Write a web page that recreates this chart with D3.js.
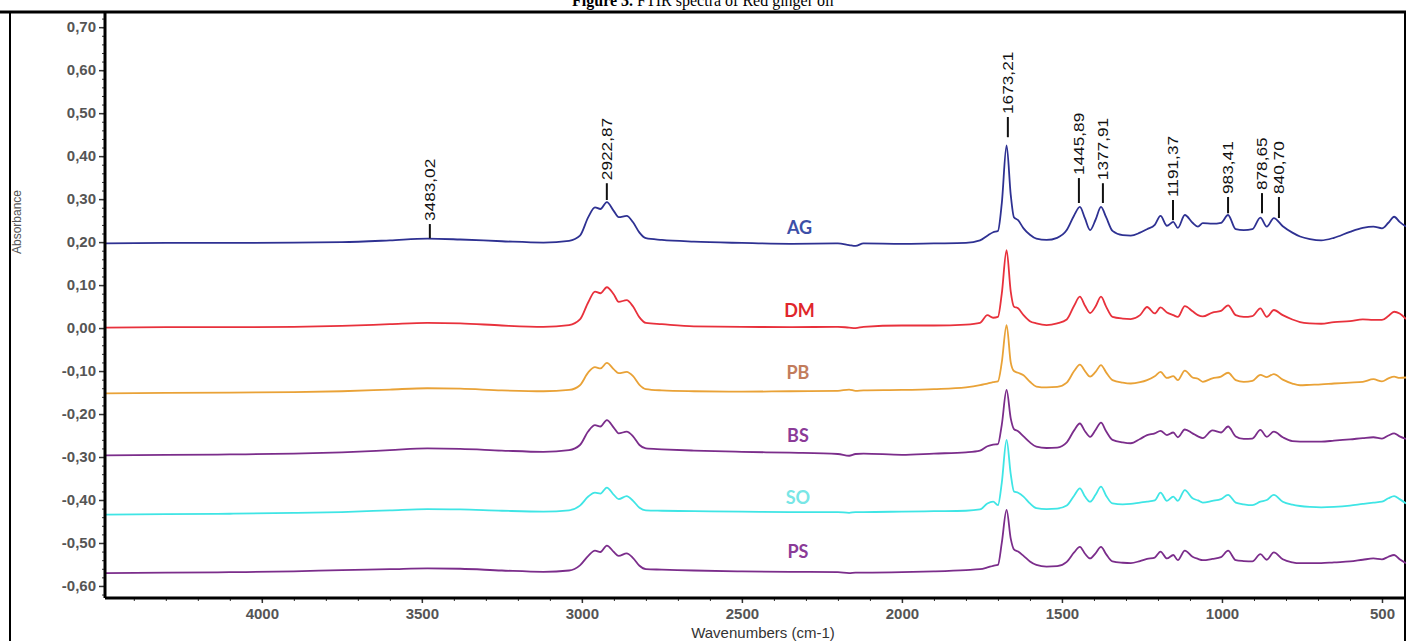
<!DOCTYPE html>
<html>
<head>
<meta charset="utf-8">
<script src="https://cdn.jsdelivr.net/npm/d3@7"></script>
<style>
    html, body { margin: 0; padding: 0; background: #fff; }
    #chart { width: 1406px; height: 641px; overflow: hidden; }
</style>
</head>
<body>
<div id="chart"></div>
<script>
// Wavenumber grid (cm-1), shared by every spectrum
const wavenumbers = [4490, 4300, 4100, 3900, 3750, 3600, 3483, 3380, 3250, 3120,
    3040, 3006, 2980, 2959, 2942, 2922, 2900, 2885, 2860, 2840,
    2820, 2800, 2750, 2650, 2500, 2350, 2200, 2165, 2145, 2120,
    2000, 1900, 1800, 1756, 1733, 1715, 1700, 1688, 1673, 1660,
    1650, 1637, 1620, 1600, 1580, 1548, 1515, 1485, 1462, 1444,
    1428, 1412, 1395, 1378, 1362, 1342, 1310, 1285, 1256, 1234,
    1210, 1192, 1172, 1152, 1138, 1116, 1092, 1075, 1060, 1030,
    1003, 981, 957, 932, 905, 880, 860, 838, 810, 780,
    756, 725, 690, 650, 600, 560, 527, 500, 480, 462,
    445, 425];

// Absorbance of each sample (offset as in the figure)
const agValues = [0.197, 0.198, 0.198, 0.199, 0.200, 0.204, 0.208, 0.206, 0.202, 0.199,
    0.203, 0.215, 0.258, 0.281, 0.277, 0.293, 0.272, 0.258, 0.261, 0.246,
    0.222, 0.209, 0.205, 0.201, 0.198, 0.196, 0.197, 0.193, 0.191, 0.197,
    0.196, 0.197, 0.198, 0.204, 0.215, 0.223, 0.226, 0.290, 0.425, 0.310,
    0.258, 0.251, 0.232, 0.217, 0.208, 0.205, 0.210, 0.228, 0.262, 0.282,
    0.255, 0.228, 0.252, 0.282, 0.258, 0.226, 0.216, 0.215, 0.222, 0.230,
    0.240, 0.261, 0.238, 0.247, 0.233, 0.263, 0.245, 0.236, 0.244, 0.243,
    0.245, 0.263, 0.230, 0.228, 0.230, 0.257, 0.236, 0.256, 0.237, 0.222,
    0.213, 0.207, 0.204, 0.210, 0.224, 0.233, 0.236, 0.232, 0.245, 0.259,
    0.247, 0.236];

const dmValues = [0.001, 0.002, 0.002, 0.003, 0.005, 0.009, 0.012, 0.011, 0.006, 0.003,
    0.007, 0.020, 0.060, 0.085, 0.081, 0.095, 0.078, 0.061, 0.065, 0.050,
    0.025, 0.012, 0.009, 0.004, 0.003, 0.002, 0.003, 0.001, 0.000, 0.003,
    0.006, 0.006, 0.008, 0.012, 0.030, 0.024, 0.026, 0.080, 0.181, 0.085,
    0.050, 0.046, 0.030, 0.016, 0.011, 0.007, 0.011, 0.020, 0.052, 0.073,
    0.052, 0.035, 0.050, 0.073, 0.050, 0.026, 0.022, 0.021, 0.030, 0.049,
    0.034, 0.048, 0.036, 0.030, 0.026, 0.051, 0.039, 0.030, 0.027, 0.036,
    0.040, 0.053, 0.030, 0.026, 0.028, 0.046, 0.026, 0.042, 0.030, 0.020,
    0.014, 0.011, 0.010, 0.014, 0.016, 0.020, 0.019, 0.019, 0.028, 0.038,
    0.034, 0.021];

const pbValues = [-0.152, -0.151, -0.150, -0.149, -0.147, -0.143, -0.140, -0.141, -0.145, -0.147,
    -0.144, -0.133, -0.103, -0.091, -0.094, -0.081, -0.096, -0.105, -0.102, -0.112,
    -0.132, -0.142, -0.145, -0.147, -0.148, -0.147, -0.146, -0.143, -0.146, -0.145,
    -0.144, -0.142, -0.138, -0.133, -0.129, -0.126, -0.124, -0.080, 0.007, -0.080,
    -0.100, -0.104, -0.110, -0.125, -0.136, -0.138, -0.137, -0.127, -0.100, -0.085,
    -0.100, -0.113, -0.102, -0.086, -0.103, -0.121, -0.127, -0.129, -0.126, -0.121,
    -0.112, -0.102, -0.116, -0.112, -0.121, -0.099, -0.115, -0.118, -0.125, -0.117,
    -0.113, -0.104, -0.121, -0.125, -0.123, -0.109, -0.114, -0.107, -0.120, -0.129,
    -0.133, -0.132, -0.131, -0.129, -0.127, -0.125, -0.119, -0.124, -0.117, -0.113,
    -0.116, -0.115];

const bsValues = [-0.296, -0.295, -0.294, -0.292, -0.289, -0.284, -0.280, -0.281, -0.285, -0.288,
    -0.284, -0.272, -0.240, -0.226, -0.229, -0.214, -0.232, -0.245, -0.241, -0.252,
    -0.272, -0.280, -0.282, -0.285, -0.288, -0.290, -0.293, -0.297, -0.293, -0.292,
    -0.295, -0.292, -0.289, -0.285, -0.275, -0.271, -0.270, -0.225, -0.144, -0.210,
    -0.235, -0.240, -0.252, -0.266, -0.276, -0.279, -0.278, -0.266, -0.238, -0.222,
    -0.240, -0.253, -0.237, -0.220, -0.240, -0.260, -0.266, -0.268, -0.258, -0.249,
    -0.245, -0.239, -0.249, -0.243, -0.254, -0.236, -0.245, -0.252, -0.256, -0.238,
    -0.243, -0.229, -0.252, -0.258, -0.257, -0.237, -0.253, -0.241, -0.254, -0.263,
    -0.264, -0.264, -0.264, -0.262, -0.259, -0.256, -0.254, -0.257, -0.250, -0.245,
    -0.252, -0.258];

const soValues = [-0.434, -0.433, -0.432, -0.430, -0.428, -0.424, -0.421, -0.422, -0.425, -0.427,
    -0.424, -0.413, -0.392, -0.383, -0.385, -0.371, -0.388, -0.398, -0.391, -0.402,
    -0.418, -0.424, -0.425, -0.426, -0.427, -0.428, -0.428, -0.430, -0.428, -0.428,
    -0.427, -0.426, -0.425, -0.422, -0.408, -0.404, -0.412, -0.360, -0.260, -0.340,
    -0.380, -0.383, -0.392, -0.408, -0.419, -0.421, -0.420, -0.413, -0.390, -0.373,
    -0.392, -0.404, -0.388, -0.369, -0.390, -0.408, -0.410, -0.409, -0.406, -0.404,
    -0.401, -0.383, -0.402, -0.392, -0.402, -0.377, -0.396, -0.401, -0.406, -0.402,
    -0.398, -0.388, -0.406, -0.410, -0.412, -0.404, -0.400, -0.388, -0.404, -0.411,
    -0.414, -0.416, -0.417, -0.416, -0.413, -0.409, -0.406, -0.404, -0.396, -0.391,
    -0.398, -0.408];

const psValues = [-0.570, -0.569, -0.568, -0.566, -0.563, -0.561, -0.559, -0.560, -0.564, -0.567,
    -0.564, -0.552, -0.530, -0.518, -0.521, -0.506, -0.521, -0.530, -0.524, -0.535,
    -0.553, -0.561, -0.562, -0.564, -0.566, -0.567, -0.568, -0.570, -0.569, -0.569,
    -0.568, -0.566, -0.563, -0.561, -0.557, -0.553, -0.551, -0.500, -0.423, -0.490,
    -0.515, -0.520, -0.530, -0.543, -0.551, -0.555, -0.554, -0.544, -0.522, -0.509,
    -0.525, -0.536, -0.524, -0.509, -0.526, -0.543, -0.546, -0.547, -0.542, -0.537,
    -0.534, -0.520, -0.536, -0.528, -0.540, -0.518, -0.532, -0.537, -0.540, -0.537,
    -0.533, -0.518, -0.540, -0.542, -0.543, -0.526, -0.539, -0.522, -0.538, -0.545,
    -0.547, -0.547, -0.547, -0.545, -0.543, -0.539, -0.536, -0.538, -0.532, -0.528,
    -0.538, -0.547];

const seriesNames = ['AG', 'DM', 'PB', 'BS', 'SO', 'PS'];
const seriesValues = [agValues, dmValues, pbValues, bsValues, soValues, psValues];
const lineColors = ['#2e3192', '#e8313c', '#e9a237', '#7b2d8b', '#3fe5e5', '#7b2d8b'];
const labelColors = ['#3d4fa8', '#e0262c', '#c27c5c', '#8b3b98', '#79e6e6', '#8b3b98'];
// where the sample names sit (wavenumber, absorbance)
const labelWavenumbers = [2320, 2320, 2325, 2325, 2325, 2325];
const labelAbsorbance = [0.233, 0.040, -0.105, -0.251, -0.395, -0.521];

// Peak annotations on the AG spectrum
const peakLabels = ['3483,02', '2922,87', '1673,21', '1445,89', '1377,91', '1191,37', '983,41', '878,65', '840,70'];
const peakPositions = [3475, 2922, 1669, 1447, 1372, 1153, 981, 875, 822];
const peakTickTop = [0.242, 0.337, 0.491, 0.349, 0.337, 0.298, 0.305, 0.314, 0.305];
const peakTickBottom = [0.209, 0.298, 0.444, 0.291, 0.291, 0.251, 0.267, 0.267, 0.256];

const xTicks = [4000, 3500, 3000, 2500, 2000, 1500, 1000, 500];
const yTicks = [0.7, 0.6, 0.5, 0.4, 0.3, 0.2, 0.1, 0, -0.1, -0.2, -0.3, -0.4, -0.5, -0.6];

/**
 * Draws the stacked FTIR spectra
 * @param {string} containerId - The ID of the container element
 */
function createSpectraChart(containerId) {
    const width = 1406;
    const height = 641;
    const margin = { top: 13, right: 0, bottom: 43, left: 105 };
    const innerW = width - margin.left - margin.right;
    const innerH = height - margin.top - margin.bottom;

    const svg = d3.select('#' + containerId)
        .append('svg')
        .attr('width', width)
        .attr('height', height);

    const x = d3.scaleLinear().domain([4490, 425]).range([margin.left, margin.left + innerW]);
    const y = d3.scaleLinear().domain([-0.628, 0.733]).range([margin.top + innerH, margin.top]);

    // comma decimals and a plain hyphen for negatives, as in the source
    const fmt = d => d3.format('.2f')(d).replace('.', ',').replace('\u2212', '-');

    // Title (cut at the top in the source)
    const title = svg.append('text')
        .attr('x', 703)
        .attr('y', 6)
        .attr('text-anchor', 'middle')
        .attr('font-family', '"Liberation Serif", "Times New Roman", serif')
        .attr('font-size', '16px')
        .attr('fill', '#000');
    title.append('tspan').attr('font-weight', 'bold').text('Figure 3.');
    title.append('tspan').text(' FTIR spectra of Red ginger oil');

    // Outer frame
    svg.append('line')
        .attr('x1', 0).attr('x2', width)
        .attr('y1', 12).attr('y2', 12)
        .attr('stroke', '#000').attr('stroke-width', 3);
    svg.append('line')
        .attr('x1', 10).attr('x2', 10)
        .attr('y1', 12).attr('y2', height)
        .attr('stroke', '#000').attr('stroke-width', 2);
    svg.append('line')
        .attr('x1', width - 1).attr('x2', width - 1)
        .attr('y1', 12).attr('y2', height)
        .attr('stroke', '#000').attr('stroke-width', 2);

    // Clip for the spectra
    svg.append('clipPath')
        .attr('id', 'plot-clip')
        .append('rect')
        .attr('x', margin.left)
        .attr('y', margin.top)
        .attr('width', innerW)
        .attr('height', innerH);

    const line = d3.line()
        .x((d, i) => x(wavenumbers[i]))
        .y(d => y(d))
        .curve(d3.curveMonotoneX);

    svg.append('g')
        .attr('clip-path', 'url(#plot-clip)')
        .selectAll('path')
        .data(seriesValues)
        .enter()
        .append('path')
        .attr('d', d => line(d))
        .attr('fill', 'none')
        .attr('stroke', (d, i) => lineColors[i])
        .attr('stroke-width', 1.8)
        .attr('stroke-linejoin', 'round');

    // Sample names
    svg.append('g')
        .selectAll('text')
        .data(seriesNames)
        .enter()
        .append('text')
        .attr('x', (d, i) => x(labelWavenumbers[i]))
        .attr('y', (d, i) => y(labelAbsorbance[i]))
        .attr('dy', '0.35em')
        .attr('text-anchor', 'middle')
        .attr('font-family', 'Lato, "Open Sans", sans-serif')
        .attr('font-weight', 'bold')
        .attr('font-size', '18px')
        .attr('fill', (d, i) => labelColors[i])
        .text(d => d);

    // Peak ticks and labels
    const peaks = svg.append('g')
        .selectAll('g')
        .data(peakLabels)
        .enter()
        .append('g');

    peaks.append('line')
        .attr('x1', (d, i) => x(peakPositions[i]))
        .attr('x2', (d, i) => x(peakPositions[i]))
        .attr('y1', (d, i) => y(peakTickTop[i]))
        .attr('y2', (d, i) => y(peakTickBottom[i]))
        .attr('stroke', '#111')
        .attr('stroke-width', 2);

    peaks.append('text')
        .attr('transform', (d, i) => `translate(${x(peakPositions[i])},${y(peakTickTop[i]) - 3}) rotate(-90) scale(1.15,1)`)
        .attr('dy', '0.35em')
        .attr('font-family', '"Liberation Sans Narrow", "Liberation Sans", Arial, sans-serif')
        .attr('font-size', '15px')
        .attr('fill', '#111')
        .text(d => d);

    // Y axis
    const yAxis = svg.append('g')
        .attr('transform', `translate(${margin.left},0)`);
    yAxis.append('g')
        .call(d3.axisLeft(y).tickValues(d3.range(-0.62, 0.73, 0.02)).tickSize(3).tickFormat(''))
        .call(g => g.select('.domain').remove())
        .selectAll('line').attr('stroke', '#333');
    yAxis.append('g')
        .call(d3.axisLeft(y).tickValues(yTicks).tickSize(6).tickPadding(3).tickFormat(fmt))
        .call(g => g.select('.domain').remove())
        .call(g => g.selectAll('line').attr('stroke', '#333').attr('stroke-width', 1.5))
        .selectAll('text')
        .attr('font-family', '"Liberation Sans", Arial, sans-serif')
        .attr('font-weight', 'bold')
        .attr('font-size', '15px')
        .attr('fill', '#555');
    yAxis.append('line')
        .attr('x1', 0).attr('x2', 0)
        .attr('y1', margin.top).attr('y2', margin.top + innerH)
        .attr('stroke', '#000').attr('stroke-width', 3);

    // X axis
    const xAxis = svg.append('g')
        .attr('transform', `translate(0,${margin.top + innerH})`);
    xAxis.append('g')
        .call(d3.axisBottom(x).tickValues(d3.range(500, 4490, 100)).tickSize(3).tickFormat(''))
        .call(g => g.select('.domain').remove())
        .selectAll('line').attr('stroke', '#333');
    xAxis.append('g')
        .call(d3.axisBottom(x).tickValues(xTicks).tickSize(5).tickPadding(5).tickFormat(d3.format('d')))
        .call(g => g.select('.domain').remove())
        .call(g => g.selectAll('line').attr('stroke', '#333').attr('stroke-width', 1.5))
        .selectAll('text')
        .attr('font-family', '"Liberation Sans", Arial, sans-serif')
        .attr('font-weight', 'bold')
        .attr('font-size', '15px')
        .attr('fill', '#555');
    xAxis.append('line')
        .attr('x1', margin.left).attr('x2', width)
        .attr('y1', 0).attr('y2', 0)
        .attr('stroke', '#000').attr('stroke-width', 3);

    // Axis titles
    svg.append('text')
        .attr('x', 763)
        .attr('y', 638)
        .attr('text-anchor', 'middle')
        .attr('font-family', '"Liberation Sans", Arial, sans-serif')
        .attr('font-size', '15px')
        .attr('fill', '#333')
        .text('Wavenumbers (cm-1)');

    svg.append('text')
        .attr('transform', 'translate(17,222) rotate(-90)')
        .attr('text-anchor', 'middle')
        .attr('dy', '0.35em')
        .attr('font-family', '"Liberation Sans Narrow", "Liberation Sans", Arial, sans-serif')
        .attr('font-size', '12px')
        .attr('fill', '#555')
        .text('Absorbance');
}

createSpectraChart('chart');
</script>
</body>
</html>
